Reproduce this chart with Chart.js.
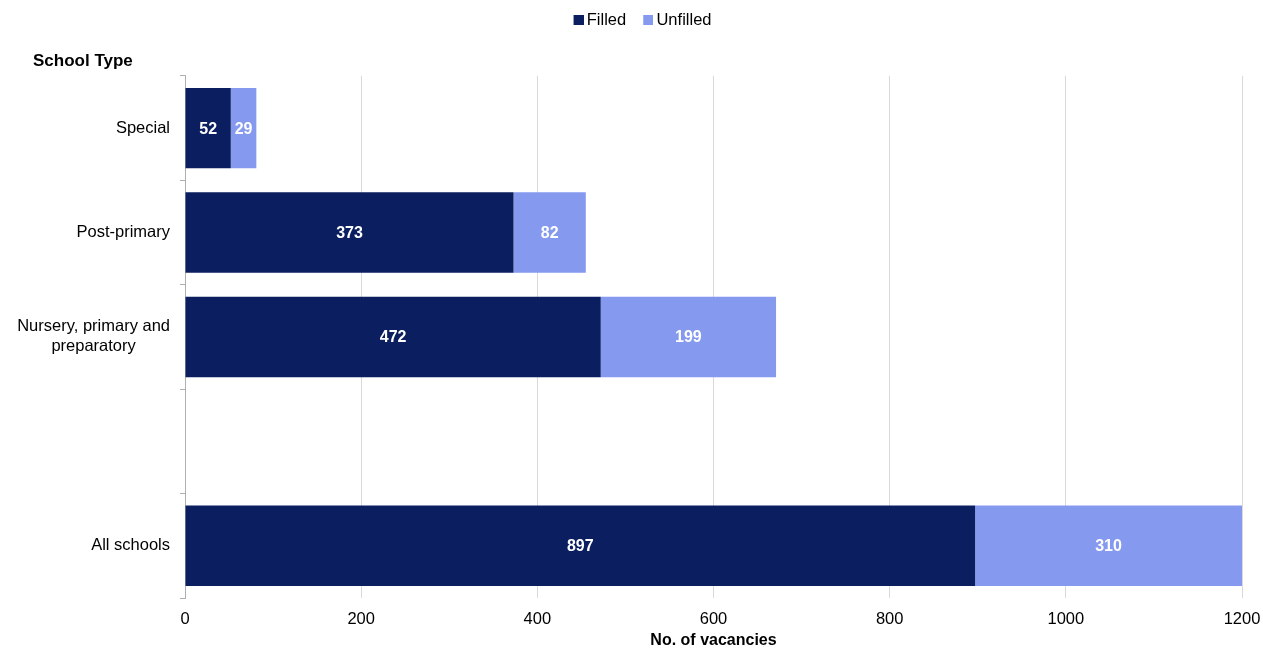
<!DOCTYPE html>
<html>
<head>
<meta charset="utf-8">
<title>Teacher vacancies by school type</title>
<script src="https://cdn.jsdelivr.net/npm/chart.js@4.4.1/dist/chart.umd.min.js"></script>
<style>
  html, body { margin: 0; padding: 0; background: #fff; }
</style>
</head>
<body>
<canvas id="chartVacancies" width="1263" height="648"></canvas>
<script>
// school types, one array per label so long names can wrap
const schoolTypes = [
  ['Special'],
  ['Post-primary'],
  ['Nursery, primary and', 'preparatory'],
  [''],
  ['All schools'],
];
const filled   = [52, 373, 472, null, 897];
const unfilled = [29, 82, 199, null, 310];
const xTicks   = [0, 200, 400, 600, 800, 1000, 1200];

const FONT = "'Liberation Sans', Arial, sans-serif";
const NAVY = '#0B1F60';
const LIGHT = '#8599EE';

// legend marker: 10px square on the right half of a 20px canvas,
// so the text sits close to the square
function legendSquare(color) {
  const c = document.createElement('canvas');
  c.width = 20;
  c.height = 10;
  const g = c.getContext('2d');
  g.fillStyle = color;
  g.fillRect(10, 0, 10, 10);
  return c;
}

// the title pads the left side, pull the legend back towards the middle
const legendShiftPlugin = {
  id: 'legendShift',
  afterLayout(chart) {
    const lg = chart.legend;
    if (!lg) return;
    lg.left -= 8;
    lg.right -= 8;
  },
};

// y labels drawn by hand: block right-aligned, lines centred between them
const yLabelsPlugin = {
  id: 'yLabels',
  afterDraw(chart) {
    const { ctx } = chart;
    const y = chart.scales.y;
    ctx.save();
    ctx.font = `16.5px ${FONT}`;
    ctx.fillStyle = '#000';
    ctx.textAlign = 'center';
    ctx.textBaseline = 'middle';
    schoolTypes.forEach((lines, i) => {
      const w = Math.max(...lines.map(l => ctx.measureText(l).width));
      const cx = y.right - 15 - w / 2;
      const cy = y.getPixelForValue(i);
      lines.forEach((l, j) => ctx.fillText(l, cx, cy + (j - (lines.length - 1) / 2) * 20));
    });
    ctx.restore();
  },
};

// values written in the middle of each visible bar segment
const barValuesPlugin = {
  id: 'barValues',
  afterDatasetsDraw(chart) {
    const { ctx, chartArea } = chart;
    ctx.save();
    ctx.font = `bold 16px ${FONT}`;
    ctx.fillStyle = '#fff';
    ctx.textAlign = 'center';
    ctx.textBaseline = 'middle';
    chart.data.datasets.forEach((ds, di) => {
      chart.getDatasetMeta(di).data.forEach((bar, i) => {
        const v = ds.data[i];
        if (v == null) return;
        const { x, base, y } = bar.getProps(['x', 'base', 'y'], true);
        const x0 = Math.max(Math.min(x, base), chartArea.left);
        const x1 = Math.min(Math.max(x, base), chartArea.right);
        ctx.fillText(String(v), (x0 + x1) / 2, y + 1);
      });
    });
    ctx.restore();
  },
};

new Chart(document.getElementById('chartVacancies'), {
  type: 'bar',
  data: {
    labels: schoolTypes,
    datasets: [
      { label: 'Filled',   data: filled,   backgroundColor: NAVY,  pointStyle: legendSquare(NAVY),  categoryPercentage: 1, barPercentage: 0.77 },
      { label: 'Unfilled', data: unfilled, backgroundColor: LIGHT, pointStyle: legendSquare(LIGHT), categoryPercentage: 1, barPercentage: 0.77 },
    ],
  },
  options: {
    indexAxis: 'y',
    responsive: false,
    animation: false,
    devicePixelRatio: 1,
    layout: { padding: { left: 33, right: 0, top: 0, bottom: 0 } },
    plugins: {
      tooltip: { enabled: false },
      legend: {
        position: 'top',
        labels: {
          color: '#000',
          font: { family: FONT, size: 16.5 },
          usePointStyle: true,
          pointStyleWidth: 10,
          boxHeight: 10,
          padding: 12,
        },
      },
      title: {
        display: true,
        text: 'School Type',
        align: 'start',
        weight: 500,
        color: '#000',
        font: { family: FONT, size: 17, weight: 'bold' },
        padding: { top: 13, bottom: 4 },
      },
    },
    scales: {
      x: {
        stacked: true,
        min: 0,
        max: 1200,
        afterBuildTicks: (scale) => { scale.ticks = xTicks.map(v => ({ value: v })); },
        afterFit: (scale) => { scale.paddingRight = 21; },
        grid: { color: '#d9d9d9', drawTicks: false },
        border: { display: false },
        ticks: {
          color: '#000',
          font: { family: FONT, size: 16.5 },
          padding: 12,
          callback: (v) => String(v),
        },
        title: {
          display: true,
          text: 'No. of vacancies',
          color: '#000',
          font: { family: FONT, size: 16, weight: 'bold' },
          padding: { top: -11, bottom: -2 },
        },
      },
      y: {
        stacked: true,
        afterFit: (scale) => { scale.width = 152; },
        grid: { drawOnChartArea: false, drawTicks: true, tickLength: 5, offset: true, color: '#b0b0b0' },
        border: { display: true, color: '#b0b0b0' },
        ticks: { display: false },
      },
    },
  },
  plugins: [legendShiftPlugin, yLabelsPlugin, barValuesPlugin],
});
</script>
</body>
</html>
